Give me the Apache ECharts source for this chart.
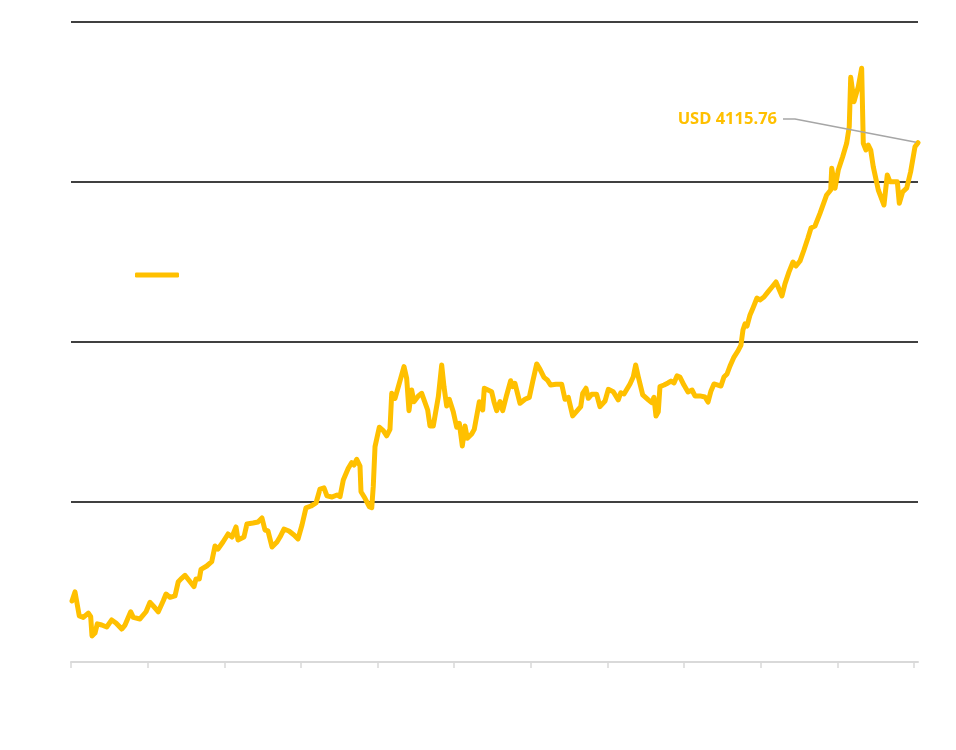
<!DOCTYPE html>
<html>
<head>
<meta charset="utf-8">
<script src="https://cdn.jsdelivr.net/npm/echarts@6.0.0/dist/echarts.min.js"></script>
<style>
html,body{margin:0;padding:0;background:#ffffff;}
#chart{width:956px;height:750px;}
</style>
</head>
<body>
<div id="chart"></div>
<script>
const seriesName = 'Gold price';
const labelPrefix = 'USD ';

// time (decimal years)
const dates = [
2015.013, 2015.052, 2015.108, 2015.160, 2015.226, 2015.257, 2015.274, 2015.313, 2015.343, 2015.401,
2015.466, 2015.531, 2015.587, 2015.662, 2015.705, 2015.779, 2015.813, 2015.900, 2015.979, 2016.031,
2016.074, 2016.139, 2016.204, 2016.240, 2016.292, 2016.357, 2016.400, 2016.444, 2016.487, 2016.544,
2016.605, 2016.631, 2016.674, 2016.696, 2016.771, 2016.836, 2016.879, 2016.918, 2016.983, 2017.049,
2017.101, 2017.153, 2017.179, 2017.257, 2017.296, 2017.375, 2017.440, 2017.492, 2017.531, 2017.570,
2017.623, 2017.688, 2017.727, 2017.779, 2017.844, 2017.910, 2017.962, 2018.014, 2018.066, 2018.132,
2018.197, 2018.249, 2018.301, 2018.340, 2018.406, 2018.471, 2018.510, 2018.553, 2018.618, 2018.663,
2018.693, 2018.728, 2018.771, 2018.784, 2018.836, 2018.892, 2018.924, 2018.944, 2018.967, 2019.023,
2019.075, 2019.119, 2019.162, 2019.185, 2019.228, 2019.284, 2019.345, 2019.380, 2019.410, 2019.445,
2019.475, 2019.532, 2019.576, 2019.654, 2019.684, 2019.727, 2019.793, 2019.837, 2019.867, 2019.902,
2019.936, 2019.988, 2020.033, 2020.067, 2020.106, 2020.141, 2020.171, 2020.228, 2020.262, 2020.328,
2020.372, 2020.393, 2020.489, 2020.519, 2020.555, 2020.598, 2020.633, 2020.685, 2020.737, 2020.763,
2020.793, 2020.859, 2020.924, 2020.980, 2021.024, 2021.077, 2021.120, 2021.172, 2021.215, 2021.259,
2021.328, 2021.403, 2021.446, 2021.489, 2021.546, 2021.606, 2021.651, 2021.677, 2021.720, 2021.750,
2021.794, 2021.859, 2021.902, 2021.968, 2022.011, 2022.076, 2022.141, 2022.173, 2022.216, 2022.294,
2022.337, 2022.368, 2022.402, 2022.460, 2022.533, 2022.577, 2022.607, 2022.633, 2022.663, 2022.685,
2022.738, 2022.790, 2022.829, 2022.868, 2022.907, 2022.946, 2022.998, 2023.051, 2023.103, 2023.142,
2023.207, 2023.272, 2023.312, 2023.351, 2023.390, 2023.442, 2023.481, 2023.520, 2023.560, 2023.599,
2023.651, 2023.703, 2023.742, 2023.768, 2023.794, 2023.821, 2023.860, 2023.899, 2023.951, 2023.990,
2024.042, 2024.095, 2024.147, 2024.199, 2024.238, 2024.277, 2024.316, 2024.369, 2024.421, 2024.460,
2024.512, 2024.564, 2024.616, 2024.656, 2024.708, 2024.773, 2024.860, 2024.913, 2024.926, 2024.969,
2025.012, 2025.069, 2025.121, 2025.155, 2025.174, 2025.217, 2025.273, 2025.317, 2025.338, 2025.373,
2025.403, 2025.435, 2025.468, 2025.534, 2025.608, 2025.651, 2025.686, 2025.782, 2025.808, 2025.852,
2025.904, 2025.956, 2026.013, 2026.052
];

// price, USD
const goldValues = [
1251, 1308, 1158, 1149, 1176, 1153, 1033, 1051, 1108, 1101,
1089, 1133, 1114, 1076, 1101, 1184, 1149, 1139, 1184, 1243,
1220, 1184, 1253, 1295, 1274, 1283, 1372, 1393, 1412, 1378,
1341, 1389, 1389, 1449, 1470, 1497, 1595, 1576, 1620, 1670,
1651, 1714, 1633, 1651, 1733, 1739, 1745, 1770, 1695, 1689,
1589, 1620, 1651, 1701, 1689, 1664, 1639, 1726, 1833, 1845,
1864, 1951, 1958, 1908, 1901, 1914, 1903, 2008, 2081, 2116,
2101, 2137, 2095, 1934, 1893, 1841, 1834, 1966, 2216, 2337,
2316, 2284, 2324, 2549, 2518, 2612, 2716, 2643, 2441, 2570,
2497, 2533, 2549, 2445, 2345, 2345, 2528, 2726, 2591, 2470,
2512, 2434, 2337, 2362, 2220, 2345, 2268, 2295, 2324, 2497,
2445, 2581, 2559, 2497, 2441, 2497, 2441, 2539, 2628, 2591,
2612, 2487, 2512, 2524, 2622, 2733, 2699, 2649, 2633, 2601,
2606, 2606, 2512, 2524, 2408, 2441, 2466, 2549, 2581, 2518,
2543, 2543, 2466, 2501, 2574, 2559, 2508, 2553, 2545, 2608,
2653, 2726, 2653, 2539, 2508, 2491, 2524, 2408, 2434, 2591,
2601, 2614, 2626, 2614, 2658, 2651, 2601, 2558, 2570, 2533,
2533, 2526, 2495, 2564, 2608, 2601, 2595, 2651, 2670, 2720,
2776, 2814, 2851, 2945, 2983, 2970, 3039, 3083, 3145, 3133,
3151, 3183, 3214, 3245, 3201, 3158, 3233, 3308, 3370, 3345,
3376, 3445, 3520, 3583, 3595, 3674, 3789, 3820, 3956, 3831,
3945, 4028, 4112, 4216, 4524, 4372, 4466, 4581, 4112, 4070,
4101, 4070, 3966, 3820, 3726, 3914, 3872, 3872, 3737, 3809,
3831, 3934, 4091, 4115.76
];

const xTickValues = [2015, 2016, 2017, 2018, 2019, 2020, 2021, 2022, 2023, 2024, 2025, 2026];

const lastIndex = dates.length - 1;
const seriesData = dates.map(function (d, i) {
  const point = [d, goldValues[i]];
  if (i !== lastIndex) return point;
  return { value: point, symbol: 'circle', symbolSize: 4, label: { show: true } };
});

const chart = echarts.init(document.getElementById('chart'), null, { renderer: 'canvas' });

const option = {
  backgroundColor: '#ffffff',
  animation: false,
  grid: { left: 71, right: 38, top: 22, bottom: 88, containLabel: false, outerBoundsMode: 'none' },
  legend: {
    left: 130, top: 263,
    icon: 'roundRect', itemWidth: 44, itemHeight: 5, itemGap: 10,
    textStyle: { color: '#ffffff', fontSize: 14, fontFamily: 'Open Sans' },
    data: [seriesName]
  },
  xAxis: {
    type: 'value', min: 2015, max: dates[lastIndex], interval: 1,
    splitLine: { show: false },
    axisLine: { show: true, onZero: false, lineStyle: { color: '#D9D9D9', width: 2 } },
    axisTick: { show: true, length: 6, customValues: xTickValues, lineStyle: { color: '#D9D9D9', width: 1.5 } },
    axisLabel: { customValues: xTickValues, color: '#ffffff', rotate: 45, fontSize: 13, fontFamily: 'Open Sans',
      formatter: function (v) { return String(v); } }
  },
  yAxis: [
    {
      type: 'value', min: 1000, max: 5000, interval: 1000,
      axisLine: { show: false }, axisTick: { show: false },
      axisLabel: { color: '#ffffff', fontSize: 13, fontFamily: 'Open Sans' },
      splitLine: { show: true, showMinLine: false, lineStyle: { color: '#404040', width: 2 } }
    },
    { type: 'value', min: 870, max: 4870, show: false, splitLine: { show: false } }
  ],
  series: [{
    name: seriesName, type: 'line', yAxisIndex: 1,
    data: seriesData,
    symbol: 'none', showSymbol: true, showAllSymbol: true,
    lineStyle: { color: '#FFC000', width: 5, cap: 'round', join: 'round' },
    itemStyle: { color: '#FFC000' },
    label: {
      show: false, color: '#FFC000', fontFamily: 'Open Sans', fontWeight: 'bold', fontSize: 16.5,
      formatter: function (p) { return '{t|' + labelPrefix + p.value[1].toFixed(2) + '}{g|}'; },
      rich: {
        t: { color: '#FFC000', fontFamily: 'Open Sans', fontWeight: 'bold', fontSize: 16.5 },
        g: { width: 6 }
      }
    },
    labelLayout: function (p) {
      return p.dataIndex === lastIndex ? { x: 783, y: 119, align: 'right', verticalAlign: 'middle' } : {};
    },
    labelLine: { show: true, length2: 12, lineStyle: { color: '#A6A6A6', width: 1.5 } }
  }]
};
chart.setOption(option);
</script>
</body>
</html>
